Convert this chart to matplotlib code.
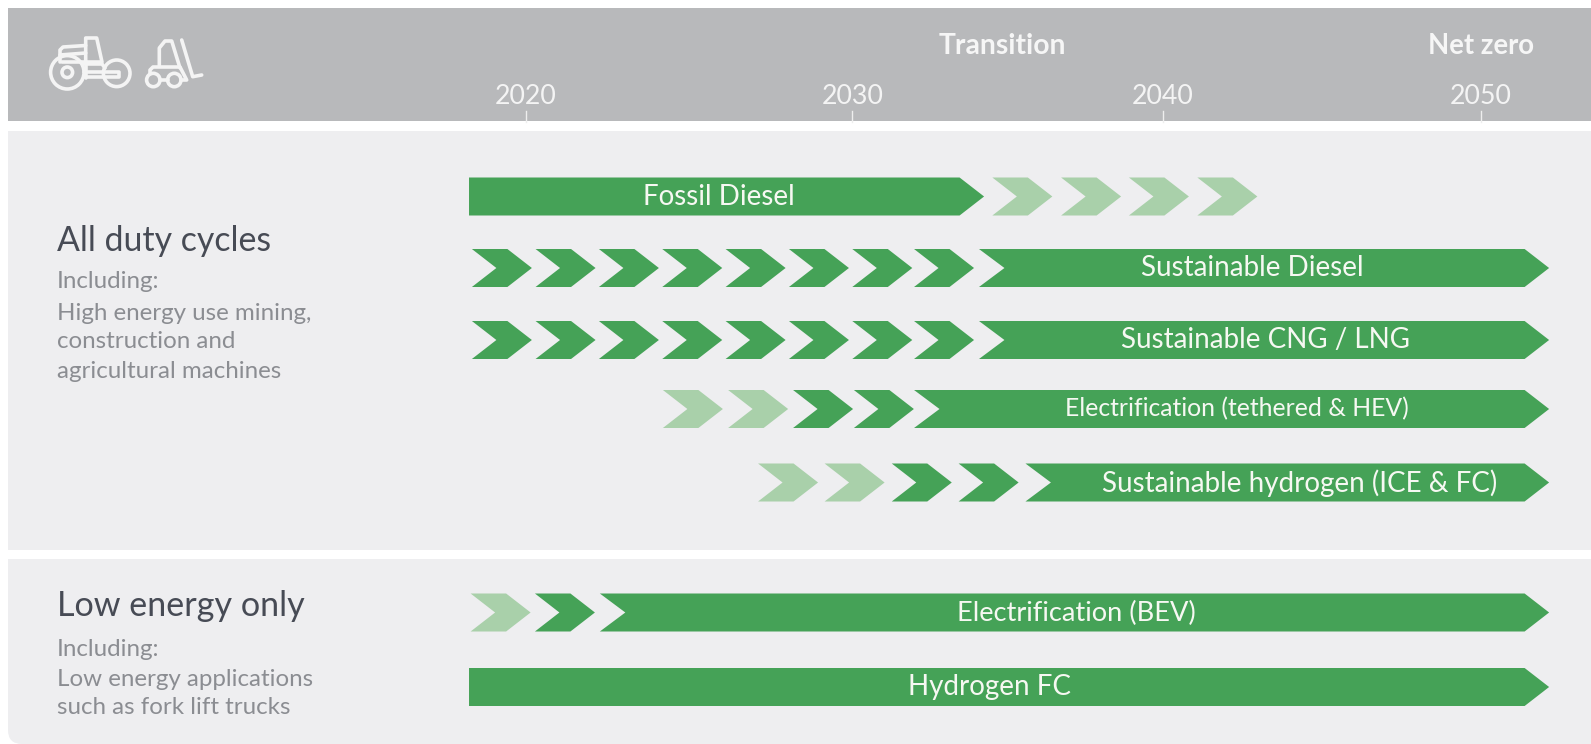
import matplotlib
matplotlib.use("Agg")
import matplotlib.pyplot as plt
from matplotlib.patches import Polygon, Rectangle, Circle, FancyBboxPatch

plt.rcParams['font.family'] = ['Lato', 'DejaVu Sans']

# ---------- data (x values in years) ----------
tick_years = [2020, 2030.25, 2040, 2050]
tick_labels = ['2020', '2030', '2040', '2050']
phase_labels = ['Transition', 'Net zero']
phase_years = [2034.98, 2050]

route_names = ['Fossil Diesel', 'Sustainable Diesel', 'Sustainable CNG / LNG',
               'Electrification (tethered & HEV)', 'Sustainable hydrogen (ICE & FC)',
               'Electrification (BEV)', 'Hydrogen FC']
bar_starts = [2018.21, 2034.23, 2034.23, 2032.19, 2035.69, 2022.32, 2018.21]
bar_ends = [2034.39, 2052.14, 2052.14, 2052.14, 2052.14, 2052.14, 2052.14]
bar_notched = [False, True, True, True, True, True, False]
label_years = [2026.06, 2042.83, 2043.24, 2042.33, 2044.31, 2037.3, 2034.55]

dark_chevrons = [
    [],
    [2018.30, 2020.30, 2022.29, 2024.28, 2026.27, 2028.26, 2030.25, 2032.19],
    [2018.30, 2020.30, 2022.29, 2024.28, 2026.27, 2028.26, 2030.25, 2032.19],
    [2028.39, 2030.30],
    [2031.49, 2033.59],
    [2020.28],
    [],
]
light_chevrons = [
    [2034.65, 2036.81, 2038.94, 2041.09],
    [],
    [],
    [2024.30, 2026.35],
    [2027.29, 2029.38],
    [2018.26],
    [],
]

group_titles = ['All duty cycles', 'Low energy only']
group_notes = ['Including:\nHigh energy use mining,\nconstruction and\nagricultural machines',
               'Including:\nLow energy applications\nsuch as fork lift trucks']

# ---------- style / layout ----------
W, H = 1591, 744
GREEN = '#45a257'
LIGHT = '#a9d0aa'
HEADER = '#b8b9bb'
PANEL = '#eeeef0'
row_y = [196.5, 268, 340, 409, 482.5, 612.5, 687]
label_sizes = [20, 20, 20, 17.8, 20, 19.6, 20]
BAR_H = 38.0
PX_PER_YEAR = 31.833
HEAD = 24.5 / PX_PER_YEAR
CHEV_W = 60 / PX_PER_YEAR

fig = plt.figure(figsize=(W / 100, H / 100), dpi=100, facecolor='white')

# page-pixel layer for panels and icons
bg = fig.add_axes([0, 0, 1, 1], zorder=0)
bg.set_xlim(0, W)
bg.set_ylim(H, 0)
bg.axis('off')
bg.add_patch(Rectangle((8, 8), W - 8, 113, fc=HEADER, ec='none'))
bg.add_patch(Rectangle((8, 131), W - 8, 419, fc=PANEL, ec='none'))
bg.add_patch(Rectangle((8, 559), W - 8, 100, fc=PANEL, ec='none'))
bg.add_patch(FancyBboxPatch((8, 600), W + 40, 144, boxstyle='round,pad=0,rounding_size=14',
                            fc=PANEL, ec='none'))

# icons
ic = dict(fc='none', ec='#f4f4f4', lw=2.6, joinstyle='round', capstyle='round')
for cx, cy, r in [(67.3, 72.3, 16.7), (67.3, 72.3, 5.3), (116.7, 73.3, 13.3),
                  (153.3, 80, 6.7), (174.3, 80, 6.7)]:
    bg.add_patch(Circle((cx, cy), r, **ic))
def line(pts, closed=False):
    bg.add_patch(Polygon(pts, closed=closed, **ic))
line([(60, 62), (60, 50), (63, 47), (85.7, 45.5)])
line([(60, 55), (85.7, 53)])
line([(62, 62), (85.7, 62)])
line([(85.7, 38), (96.7, 38), (102, 62), (85.7, 62)], closed=True)
line([(85.7, 62), (85.7, 78)])
line([(84, 64), (102, 64), (105, 68)])
line([(84, 72), (119, 72), (119, 77), (84, 77)])
line([(159.3, 66), (159.3, 48), (165, 41), (171.7, 41), (180, 68)])
line([(160, 80), (167.5, 80)])
line([(150, 73.5), (150, 70), (153, 67), (180, 67), (186.7, 80), (181, 80)])
line([(181.7, 40), (192.7, 76.7), (201.7, 75)])

# data layer: x = years, y = page rows
ax = fig.add_axes([0, 0, 1, 1], zorder=1)
ax.patch.set_alpha(0)
ax.set_xlim(2020 - 526 / PX_PER_YEAR, 2020 + (W - 526) / PX_PER_YEAR)
ax.set_ylim(H, 0)
ax.axis('off')

def chevron(x, y, color):
    top, bot = y - BAR_H / 2, y + BAR_H / 2
    ax.add_patch(Polygon([(x, top), (x + CHEV_W - HEAD, top), (x + CHEV_W, y),
                          (x + CHEV_W - HEAD, bot), (x, bot), (x + HEAD, y)],
                         closed=True, fc=color, ec='none'))

for name, x0, x1, notched, lx, y, dark, light, fs in zip(
        route_names, bar_starts, bar_ends, bar_notched, label_years, row_y,
        dark_chevrons, light_chevrons, label_sizes):
    top, bot = y - BAR_H / 2, y + BAR_H / 2
    pts = [(x0, top), (x1 - HEAD, top), (x1, y), (x1 - HEAD, bot), (x0, bot)]
    if notched:
        pts.append((x0 + 0.8, y))
    ax.add_patch(Polygon(pts, closed=True, fc=GREEN, ec='none'))
    for x in dark:
        chevron(x, y, GREEN)
    for x in light:
        chevron(x, y, LIGHT)
    ax.text(lx, y - 2, name, color='#f6f8f2', fontsize=fs, ha='center', va='center_baseline')

for yr, lab in zip(tick_years, tick_labels):
    ax.plot([yr, yr], [111, 122], color='#eeeeee', lw=1)
    ax.text(yr, 93.5, lab, color='#f4f4f4', fontsize=19.3, ha='center', va='center_baseline')
for yr, lab, fs in zip(phase_years, phase_labels, [20.3, 19.8]):
    ax.text(yr, 43, lab, color='#f6f6f6', fontsize=fs, fontweight='bold', ha='center', va='center_baseline')

# group captions, page pixels
TITLE = '#474b55'
NOTE = '#8b8d92'
NOTE_FS = 17.4
bg.text(57, 238, group_titles[0], color=TITLE, fontsize=24.4, ha='left', va='center_baseline')
bg.text(57, 603, group_titles[1], color=TITLE, fontsize=24.6, ha='left', va='center_baseline')
for yy, s in zip([280, 311, 340, 370], group_notes[0].split('\n')):
    bg.text(57, yy, s, color=NOTE, fontsize=NOTE_FS, ha='left', va='center_baseline')
for yy, s in zip([647, 677, 706], group_notes[1].split('\n')):
    bg.text(57, yy, s, color=NOTE, fontsize=NOTE_FS, ha='left', va='center_baseline')

fig.savefig('out.png', dpi=100, facecolor='white')
